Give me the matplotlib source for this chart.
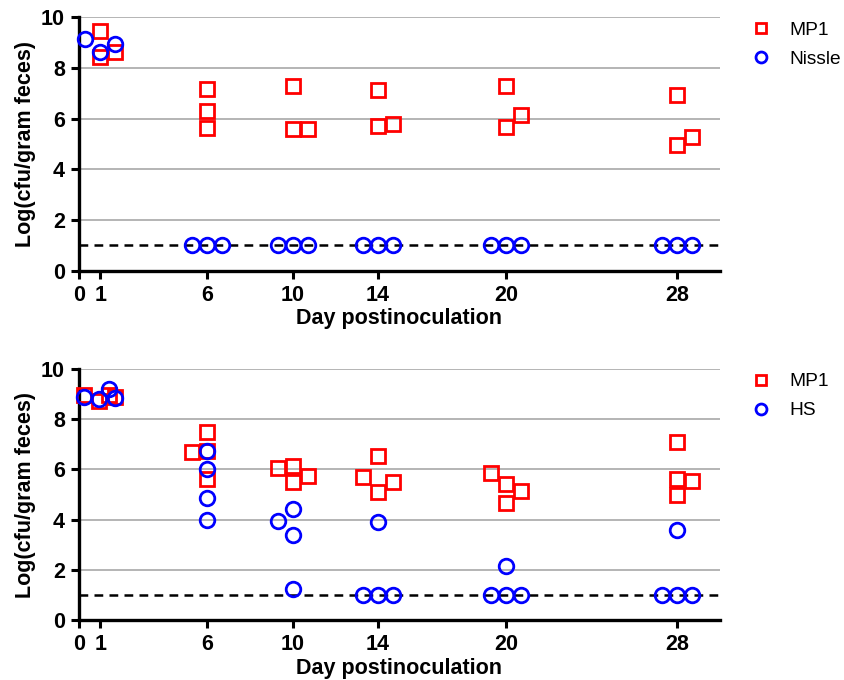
import numpy as np
import matplotlib.pyplot as plt

plt.rcParams['font.family'] = ['Liberation Sans', 'DejaVu Sans']

# x ticks (days)
day_ticks = [0, 1, 6, 10, 14, 20, 28]

# Top panel: MP1 vs Nissle (x positions are jittered around each day)
top_mp1_x = [1.0, 1.0, 1.7, 6.0, 6.0, 6.0, 10.0, 10.0, 10.7, 14.0, 14.0, 14.7,
             20.0, 20.0, 20.7, 28.0, 28.0, 28.7]
top_mp1_y = [9.46, 8.42, 8.63, 7.17, 6.30, 5.62, 7.29, 5.58, 5.58, 7.12, 5.72, 5.77,
             7.30, 5.68, 6.16, 6.94, 4.94, 5.28]
top_nis_x = [0.3, 1.0, 1.7, 5.3, 6.0, 6.7, 9.3, 10.0, 10.7, 13.3, 14.0, 14.7,
             19.3, 20.0, 20.7, 27.3, 28.0, 28.7]
top_nis_y = [9.16, 8.64, 8.95, 1.0, 1.0, 1.0, 1.0, 1.0, 1.0, 1.0, 1.0, 1.0,
             1.0, 1.0, 1.0, 1.0, 1.0, 1.0]

# Bottom panel: MP1 vs HS
bot_mp1_x = [0.25, 0.95, 1.4, 1.7, 5.3, 6.0, 6.0, 6.0, 9.3, 10.0, 10.0, 10.7,
             13.3, 14.0, 14.0, 14.7, 19.3, 20.0, 20.0, 20.7, 28.0, 28.0, 28.0, 28.7]
bot_mp1_y = [8.98, 8.71, 8.97, 8.87, 6.71, 7.49, 6.74, 5.62, 6.04, 6.12, 5.49, 5.75,
             5.71, 6.55, 5.12, 5.49, 5.87, 5.41, 4.66, 5.14, 7.10, 5.62, 4.99, 5.55]
bot_hs_x = [0.25, 0.95, 1.4, 1.7, 6.0, 6.0, 6.0, 6.0, 9.3, 10.0, 10.0, 10.0,
            13.3, 14.0, 14.0, 14.7, 19.3, 20.0, 20.0, 20.7, 27.3, 28.0, 28.0, 28.7]
bot_hs_y = [8.87, 8.82, 9.20, 8.85, 6.72, 6.01, 4.88, 4.00, 3.95, 4.41, 3.41, 1.25,
            1.0, 3.89, 1.0, 1.0, 1.0, 2.14, 1.0, 1.0, 1.0, 3.58, 1.0, 1.0]

detection_limit = 1.0

fig = plt.figure(figsize=(8.44, 6.8), dpi=100)
ax_top = fig.add_axes([0.0936, 0.602, 0.7594, 0.3726])
ax_bot = fig.add_axes([0.0936, 0.0879, 0.7594, 0.3695])

panels = [
    (ax_top, top_mp1_x, top_mp1_y, top_nis_x, top_nis_y, 'Nissle', 0.994),
    (ax_bot, bot_mp1_x, bot_mp1_y, bot_hs_x, bot_hs_y, 'HS', 0.477),
]

for ax, mx, my, cx, cy, other, leg_y in panels:
    ax.set_xlim(0, 30)
    ax.set_ylim(0, 10)
    ax.yaxis.grid(True, color='#b4b4b4', linewidth=1.4)
    ax.set_axisbelow(True)
    ax.axhline(detection_limit, color='black', linestyle=(0, (3.5, 2.5)),
               linewidth=1.8, zorder=2)
    h1, = ax.plot(mx, my, linestyle='none', marker='s', markersize=10.5,
                  markerfacecolor='none', markeredgecolor='#ff0000',
                  markeredgewidth=2.0, clip_on=False, zorder=3, label='MP1')
    h2, = ax.plot(cx, cy, linestyle='none', marker='o', markersize=10.5,
                  markerfacecolor='none', markeredgecolor='#0000ff',
                  markeredgewidth=2.0, clip_on=False, zorder=4, label=other)
    for side in ['top', 'right']:
        ax.spines[side].set_visible(False)
    for side in ['left', 'bottom']:
        ax.spines[side].set_linewidth(2.4)
    ax.set_xticks(day_ticks)
    ax.set_yticks([0, 2, 4, 6, 8, 10])
    ax.tick_params(axis='both', direction='out', length=6, width=2.2,
                   labelsize=15.5, pad=4)
    for lab in ax.get_xticklabels() + ax.get_yticklabels():
        lab.set_fontweight('bold')
    ax.set_xlabel('Day postinoculation', fontsize=15.5, fontweight='bold',
                  labelpad=2)
    ax.set_ylabel('Log(cfu/gram feces)', fontsize=15.5, fontweight='bold',
                  labelpad=4)
    fig.legend(handles=[h1, h2], loc='upper left',
               bbox_to_anchor=(0.87, leg_y), frameon=False, fontsize=13.8,
               handletextpad=1.0, labelspacing=0.6, handlelength=1.0,
               markerscale=0.75)

fig.savefig('out.png', dpi=100)
